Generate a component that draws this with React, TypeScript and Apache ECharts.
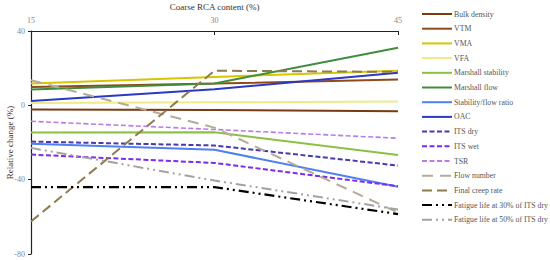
import React, { useEffect, useRef } from "react";
import * as echarts from "echarts";

const xValues = [15, 30, 45];
const xTicks = [15, 30, 45];
const yTicks = [-80, -40, 0, 40];

const seriesNames = [
  "Bulk density",
  "VTM",
  "VMA",
  "VFA",
  "Marshall stability",
  "Marshall flow",
  "Stability/flow ratio",
  "OAC",
  "ITS dry",
  "ITS wet",
  "TSR",
  "Flow number",
  "Final creep rate",
  "Fatigue life at 30% of ITS dry",
  "Fatigue life at 50% of ITS dry",
];

const bulkDensity = [-2.3, -2.5, -3.2];
const vtm = [9.9, 11.7, 13.9];
const vma = [11.7, 15.3, 18.6];
const vfa = [1.2, 1.6, 2.0];
const marshallStability = [-14.6, -14.5, -26.7];
const marshallFlow = [8.5, 11.8, 31];
const stabilityFlowRatio = [-20.7, -23.9, -43.8];
const oac = [2.3, 8.7, 17.5];
const itsDry = [-19.5, -21.6, -32.4];
const itsWet = [-26.5, -31, -43.5];
const tsr = [-8.6, -13, -17.7];
const flowNumber = [13.5, -12, -57.7];
const finalCreepRate = [-62.5, 18.6, 18];
const fatigue30 = [-44, -44, -58.5];
const fatigue50 = [-22.9, -40.5, -56];

const seriesValues = [
  bulkDensity, vtm, vma, vfa, marshallStability, marshallFlow,
  stabilityFlowRatio, oac, itsDry, itsWet, tsr, flowNumber,
  finalCreepRate, fatigue30, fatigue50,
];

const styles: { color: string; type: any; width: number }[] = [
  { color: "#7a3a12", type: "solid", width: 2 },
  { color: "#8e4a1c", type: "solid", width: 2 },
  { color: "#d6c600", type: "solid", width: 2 },
  { color: "#eeea88", type: "solid", width: 2 },
  { color: "#8cc043", type: "solid", width: 2 },
  { color: "#3f8c3c", type: "solid", width: 2 },
  { color: "#4f80f0", type: "solid", width: 2 },
  { color: "#2b38c4", type: "solid", width: 2 },
  { color: "#4a38b4", type: [5, 2.5], width: 2 },
  { color: "#7a2cf0", type: [5, 2.5], width: 2 },
  { color: "#b87ce6", type: [5, 2.5], width: 1.6 },
  { color: "#b6aa98", type: [11, 7], width: 2 },
  { color: "#8e7b50", type: [10, 5], width: 2 },
  { color: "#000000", type: [10, 4, 2, 4, 2, 4], width: 2.2 },
  { color: "#a2a2a2", type: [10, 4, 2, 4, 2, 4], width: 2 },
];

const FONT = "Liberation Serif";

export default function App() {
  const ref = useRef<HTMLDivElement>(null);
  useEffect(() => {
    document.body.style.margin = "0";
    const chart = echarts.init(ref.current!, undefined, { renderer: "svg" });
    chart.setOption({
      animation: false,
      backgroundColor: "#ffffff",
      grid: {
        left: 31, right: 152, top: 31, bottom: 6,
        containLabel: false, outerBoundsMode: "none",
      },
      legend: {
        orient: "vertical",
        left: 416,
        top: 5,
        itemWidth: 30,
        itemHeight: 10,
        itemGap: 6.7,
        itemStyle: { opacity: 0 },
        textStyle: { fontFamily: FONT, fontSize: 7.8, color: "#555555", padding: [0, 0, 0, -3] },
        data: seriesNames,
      },
      xAxis: {
        type: "value",
        position: "top",
        min: 15,
        max: 45,
        interval: 15,
        name: "Coarse RCA content (%)",
        nameLocation: "middle",
        nameGap: 20,
        nameMoveOverlap: false,
        nameTextStyle: { fontFamily: FONT, fontSize: 9, color: "#333333" },
        axisLine: { onZero: false, lineStyle: { color: "#222222", width: 1.2 } },
        axisTick: { show: true, inside: true, length: 4, lineStyle: { color: "#222222" } },
        axisLabel: {
          fontFamily: FONT, fontSize: 8, color: "#888888", margin: 7,
          formatter: (v: number) => (xTicks.includes(v) ? String(v) : ""),
        },
        splitLine: { show: false },
      },
      yAxis: {
        type: "value",
        min: -80,
        max: 40,
        interval: 40,
        name: "Relative change (%)",
        nameLocation: "middle",
        nameGap: 17,
        nameMoveOverlap: false,
        nameTextStyle: { fontFamily: FONT, fontSize: 9, color: "#333333" },
        axisLine: { show: true, onZero: false, lineStyle: { color: "#222222", width: 1.2 } },
        axisTick: { show: true, length: 3, lineStyle: { color: "#222222" } },
        axisLabel: {
          fontFamily: FONT, fontSize: 8, color: "#888888", margin: 6,
          formatter: (v: number) => (yTicks.includes(v) ? String(v) : ""),
        },
        splitLine: { show: false },
      },
      series: seriesNames.map((name, i) => ({
        name,
        type: "line",
        symbol: "none",
        data: xValues.map((x, j) => [x, seriesValues[i][j]]),
        lineStyle: styles[i],
        itemStyle: { color: styles[i].color },
        z: 2 + i,
      })),
    });
    return () => chart.dispose();
  }, []);
  return <div ref={ref} style={{ width: 550, height: 260, position: "absolute", left: 0, top: 0 }} />;
}
